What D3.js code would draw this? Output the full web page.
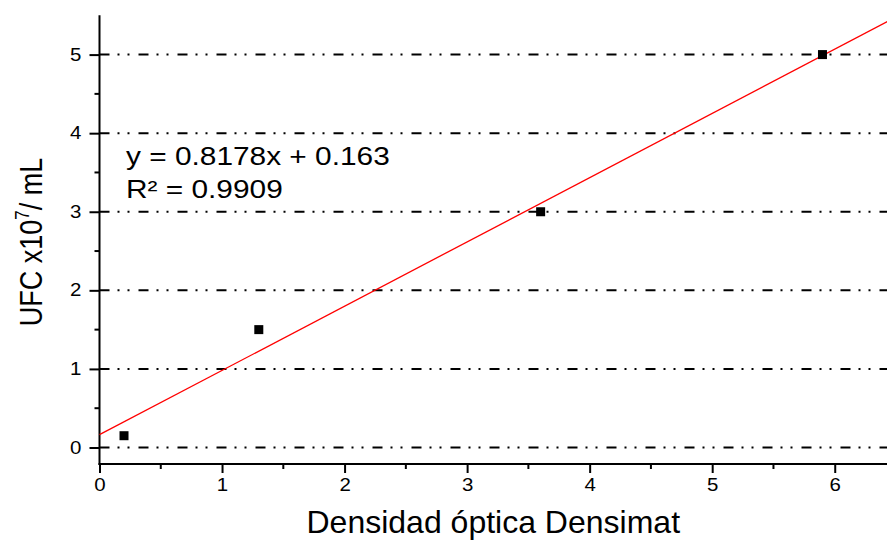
<!DOCTYPE html>
<html><head><meta charset="utf-8">
<script src="https://cdn.jsdelivr.net/npm/d3@7"></script>
<style>body{margin:0;background:#fff}svg{display:block}text{font-family:"Liberation Sans",Arial,sans-serif;fill:#000}</style>
</head><body><svg id="c" width="887" height="540"></svg>
<script>
const xValues = [0.2, 1.3, 3.6, 5.9];
const yValues = [0.15, 1.5, 3.0, 5.0];
const xTicks = [0, 1, 2, 3, 4, 5, 6];
const yTicks = [0, 1, 2, 3, 4, 5];
const slope = 0.8178, intercept = 0.163;
const eqLines = ["y = 0.8178x + 0.163", "R² = 0.9909"];
const xLabel = "Densidad óptica Densimat";

const stretch = 1.17;
const svg = d3.select("#c");
const x = d3.scaleLinear().domain([0, 6.5]).range([99.5, 896]);
const y = d3.scaleLinear().domain([-0.21, 5.5]).range([464, 15.3]);

// gridlines
svg.append("g").selectAll("line").data(yTicks).join("line")
  .attr("x1", x(0)).attr("x2", 887)
  .attr("y1", d => y(d)).attr("y2", d => y(d))
  .attr("stroke", "#000").attr("stroke-width", 2)
  .attr("stroke-dasharray", "10,8,2,8,2,9");

// x axis
const xAxis = d3.axisBottom(x).tickValues(xTicks).tickFormat(d3.format("d")).tickSize(9).tickPadding(6);
const gx = svg.append("g").attr("transform", `translate(0,${y.range()[0]})`).call(xAxis);
gx.select(".domain").remove();
gx.append("line").attr("x1", x(0) - 1).attr("x2", 887).attr("stroke", "#000").attr("stroke-width", 2);
gx.selectAll(".tick line").attr("stroke-width", 2);
gx.selectAll(".tick text").attr("font-size", 17.5).attr("font-family", '"Liberation Sans",Arial,sans-serif')
  .attr("transform", `scale(${stretch},1)`);
const xMinor = d3.range(0.5, 6.5, 1);
gx.append("g").selectAll("line").data(xMinor).join("line")
  .attr("x1", d => x(d)).attr("x2", d => x(d)).attr("y1", 0).attr("y2", 5)
  .attr("stroke", "#000").attr("stroke-width", 2);

// y axis
const yAxis = d3.axisLeft(y).tickValues(yTicks).tickFormat(d3.format("d")).tickSize(10).tickPadding(8);
const gy = svg.append("g").attr("transform", `translate(${x(0)},0)`).call(yAxis);
gy.select(".domain").remove();
gy.append("line").attr("y1", y.range()[1]).attr("y2", y.range()[0] + 1).attr("stroke", "#000").attr("stroke-width", 2);
gy.selectAll(".tick line").attr("stroke-width", 2);
gy.selectAll(".tick text").attr("font-size", 17.5).attr("font-family", '"Liberation Sans",Arial,sans-serif')
  .attr("x", -18 / stretch).attr("transform", `scale(${stretch},1)`);
const yMinor = d3.range(0.5, 5.5, 1);
gy.append("g").selectAll("line").data(yMinor).join("line")
  .attr("y1", d => y(d)).attr("y2", d => y(d)).attr("x1", 0).attr("x2", -5)
  .attr("stroke", "#000").attr("stroke-width", 2);

// trend line
const xd = x.domain();
svg.append("line")
  .attr("x1", x(xd[0])).attr("y1", y(slope * xd[0] + intercept))
  .attr("x2", x(xd[1])).attr("y2", y(slope * xd[1] + intercept))
  .attr("stroke", "#ff0000").attr("stroke-width", 1.3);

// points
const pts = xValues.map((v, i) => [v, yValues[i]]);
svg.append("g").selectAll("rect").data(pts).join("rect")
  .attr("x", d => x(d[0]) - 4.5).attr("y", d => y(d[1]) - 4.5)
  .attr("width", 9).attr("height", 9).attr("fill", "#000");

// equation
svg.append("g").attr("transform", `translate(126,0) scale(${stretch},1)`)
  .selectAll("text").data(eqLines).join("text")
  .attr("x", 0).attr("y", (d, i) => 165 + i * 33.5)
  .attr("font-size", 25.5).text(d => d);

// axis labels
svg.append("text").attr("x", (x(0) + 887) / 2).attr("y", 533).attr("text-anchor", "middle")
  .attr("font-size", 32).text(xLabel);
const yl = svg.append("text").attr("transform", `translate(42,242) scale(${stretch},1) rotate(-90)`)
  .attr("text-anchor", "middle").attr("font-size", 27);
yl.append("tspan").text("UFC x10");
yl.append("tspan").attr("font-size", 17).attr("dy", -11).text("7");
yl.append("tspan").attr("dy", 11).text("/ mL");
</script></body></html>
